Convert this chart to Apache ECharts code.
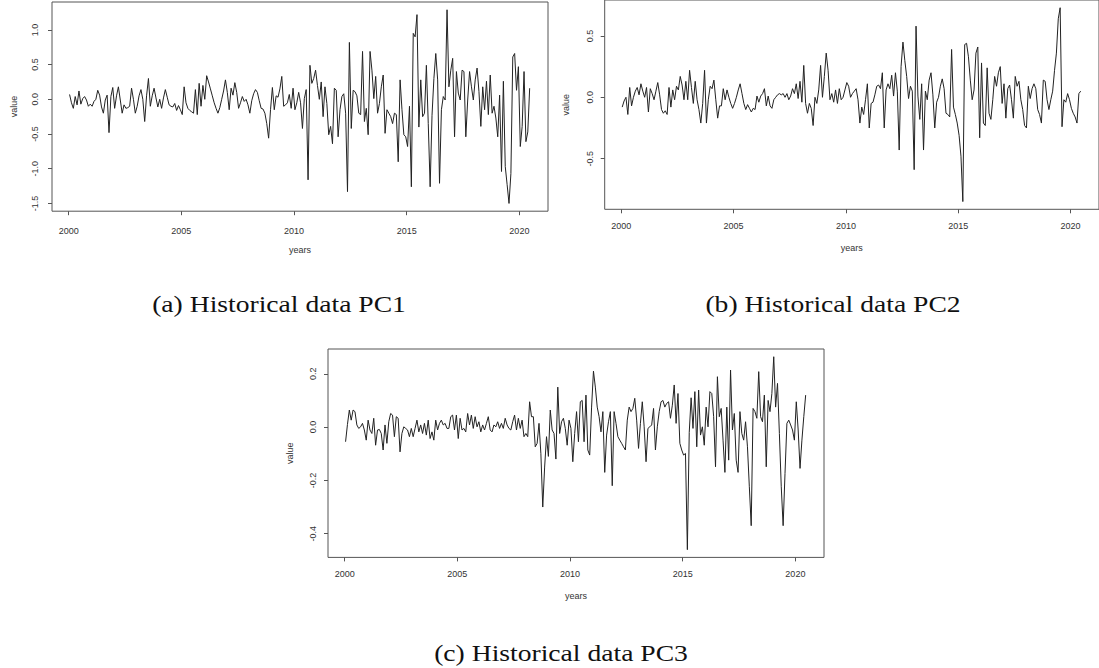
<!DOCTYPE html>
<html>
<head>
<meta charset="utf-8">
<script src="https://cdn.jsdelivr.net/npm/echarts@6/dist/echarts.min.js"></script>
<style>
html,body{margin:0;padding:0;background:#fff;}
#chart{width:1099px;height:668px;}
</style>
</head>
<body>
<div id="chart"></div>
<script>
// ---- data (monthly) ----
const START_YEAR = 2000.04;
const X_TICKS = [2000, 2005, 2010, 2015, 2020];
const PC1_TICKS = [-1.5, -1, -0.5, 0, 0.5, 1];
const PC2_TICKS = [-0.5, 0, 0.5];
const PC3_TICKS = [-0.4, -0.2, 0, 0.2];
const CAPTIONS = ['(a) Historical data PC1', '(b) Historical data PC2', '(c) Historical data PC3'];

const PC1 = [
 0.07,-0.05,-0.13,0.04,-0.08,0.12,-0.07,0.01,0.04,-0.01,
 -0.10,-0.07,-0.10,-0.03,0.00,0.13,0.06,-0.11,-0.20,-0.01,
 0.06,-0.48,0.04,0.17,-0.13,0.05,0.18,-0.01,-0.20,-0.08,
 -0.13,-0.12,-0.10,0.16,0.00,-0.20,-0.10,0.05,0.14,0.00,
 -0.32,0.05,0.30,-0.10,0.05,0.16,0.02,-0.11,0.00,-0.13,
 0.02,0.14,0.03,-0.08,-0.10,-0.11,-0.06,-0.16,-0.09,-0.15,
 -0.22,0.18,-0.05,-0.13,-0.16,-0.18,-0.20,0.14,-0.22,0.23,
 -0.10,0.20,0.00,0.34,0.25,0.15,0.05,-0.05,-0.13,-0.20,
 -0.12,0.00,0.12,0.28,0.10,-0.15,0.16,0.06,0.24,0.10,
 -0.13,-0.05,0.04,-0.03,0.00,-0.08,-0.20,-0.02,0.08,0.14,
 0.10,-0.02,-0.13,-0.14,-0.20,-0.35,-0.56,-0.15,0.17,-0.15,
 0.05,0.03,0.15,0.33,-0.10,-0.08,-0.05,0.07,-0.13,0.16,
 -0.15,-0.05,0.10,-0.05,-0.42,0.01,0.14,-1.16,0.49,0.23,
 0.30,0.42,0.20,0.00,0.25,-0.25,0.18,-0.06,-0.51,-0.39,
 -0.64,0.16,0.13,-0.54,-0.15,0.04,0.08,-0.20,-1.33,0.82,
 -0.42,0.13,0.11,0.05,-0.20,-0.22,0.69,-0.32,-0.13,-0.51,
 0.69,0.42,0.01,0.33,-0.20,-0.06,0.18,0.35,-0.49,-0.15,
 -0.20,-0.25,-0.35,-0.20,-0.22,-0.90,0.28,-0.15,-0.51,-0.54,
 -0.68,-0.10,-1.26,0.95,0.90,1.22,-0.40,0.28,-0.25,-0.20,
 0.49,-0.35,-1.26,-0.23,0.30,0.66,0.28,-1.21,-0.15,0.04,
 -0.01,1.29,0.18,0.42,0.59,-0.54,0.40,0.09,-0.01,0.42,
 0.40,-0.54,-0.01,0.40,0.18,-0.01,0.28,0.45,0.11,-0.39,
 0.18,-0.15,0.26,-0.22,0.35,-0.20,-0.10,-0.27,-0.54,0.06,
 -1.04,0.26,-0.97,-1.23,-1.50,-1.07,0.61,0.66,0.13,0.47,
 -0.68,-0.39,0.40,-0.61,-0.47,0.16
];

const PC2 = [
 -0.08,-0.03,0.00,-0.14,0.08,-0.07,0.00,0.05,0.08,0.02,
 0.11,0.05,0.00,0.08,-0.12,0.07,0.03,-0.02,0.05,0.12,
 0.02,-0.10,-0.13,-0.11,-0.14,0.08,-0.08,0.06,-0.02,0.09,
 0.06,0.17,0.10,-0.02,0.13,-0.02,0.22,0.08,-0.05,0.13,
 -0.02,-0.10,-0.21,-0.05,0.22,-0.21,-0.02,0.09,0.07,0.14,
 -0.02,-0.17,-0.07,-0.07,0.07,-0.02,0.06,0.00,-0.05,-0.09,
 -0.05,0.00,0.06,0.11,0.03,-0.05,-0.10,-0.06,-0.09,-0.12,
 -0.09,-0.10,0.01,-0.04,0.01,0.03,0.07,-0.07,0.01,-0.07,
 -0.09,-0.02,0.00,0.02,0.03,0.02,0.03,0.00,0.03,-0.02,
 0.01,0.07,0.03,0.11,-0.01,0.13,-0.04,0.26,-0.05,-0.13,
 -0.05,-0.09,-0.23,0.00,-0.05,0.06,0.26,0.00,0.17,0.36,
 0.22,-0.02,0.03,-0.04,0.06,-0.05,0.07,-0.02,0.00,0.06,
 0.12,0.09,0.00,0.03,0.05,0.07,-0.02,-0.21,-0.08,-0.14,
 -0.02,0.11,-0.25,-0.05,-0.04,0.02,0.09,0.10,0.07,0.20,
 -0.25,0.06,0.11,0.07,0.18,0.01,0.20,0.05,-0.43,0.25,
 0.45,0.30,0.17,-0.01,0.09,0.05,-0.59,0.58,0.01,-0.18,
 0.11,-0.43,0.05,-0.02,0.14,0.20,0.02,-0.25,-0.04,0.00,
 0.09,0.15,0.07,-0.13,-0.14,-0.16,0.39,-0.08,-0.14,-0.21,
 -0.31,-0.48,-0.85,0.43,0.44,0.33,0.14,-0.02,0.06,0.36,
 0.41,-0.33,0.28,-0.21,-0.23,0.24,-0.13,-0.18,-0.02,0.17,
 0.09,0.20,0.25,-0.05,0.11,-0.17,0.07,0.10,-0.02,-0.17,
 0.17,0.09,0.13,-0.02,-0.10,-0.23,-0.25,0.09,-0.01,0.07,
 0.11,0.07,-0.10,-0.14,-0.21,0.14,0.13,-0.02,-0.10,-0.02,
 0.05,0.22,0.36,0.64,0.73,-0.24,-0.02,-0.04,0.03,-0.02,
 -0.09,-0.13,-0.16,-0.21,0.03,0.05
];

const PC3 = [
 -0.055,0.01,0.064,0.026,0.064,0.058,0.008,-0.005,0.001,0.014,
 -0.011,-0.049,0.026,-0.011,-0.024,0.033,-0.068,-0.011,-0.009,-0.024,
 -0.086,0.008,-0.061,0.02,0.051,0.045,-0.036,0.039,0.033,-0.093,
 -0.024,0.001,-0.005,-0.011,-0.036,-0.005,-0.036,-0.005,0.026,-0.018,
 0.008,-0.024,0.014,-0.03,0.026,-0.043,-0.018,-0.049,0.026,-0.011,
 0.014,0.026,0.008,0.014,-0.005,-0.005,0.039,0.045,-0.011,0.045,
 -0.043,0.033,-0.011,-0.005,-0.018,0.051,0.008,0.045,-0.005,0.039,
 0.001,0.02,-0.018,0.008,-0.011,0.014,0.039,-0.011,-0.018,0.008,
 0.001,0.02,-0.005,0.014,-0.005,0.033,0.008,-0.005,-0.011,0.02,
 0.045,-0.011,0.033,-0.005,0.026,-0.036,-0.024,-0.036,0.095,0.039,
 0.039,-0.074,-0.061,0.014,-0.10,-0.30,-0.15,-0.036,-0.11,0.064,
 -0.011,-0.024,-0.12,0.15,-0.024,0.02,0.033,-0.005,-0.068,0.026,
 -0.005,-0.13,-0.024,0.058,-0.055,0.095,0.10,-0.055,0.12,-0.086,
 -0.105,0.075,0.21,0.15,0.075,0.039,-0.018,0.058,-0.17,-0.03,
 0.02,0.058,-0.22,0.058,0.014,-0.036,-0.049,-0.061,-0.074,-0.086,
 0.026,0.075,0.058,0.07,0.108,0.026,-0.08,0.014,0.095,0.001,
 -0.13,-0.005,0.001,0.008,0.07,-0.086,0.001,0.058,0.095,0.10,
 0.075,0.089,0.095,0.033,0.082,0.158,0.014,0.126,-0.061,-0.086,
 -0.105,-0.099,-0.46,-0.02,0.11,-0.005,0.133,-0.074,0.139,-0.03,
 0.001,-0.068,0.075,0.001,0.133,0.126,0.039,-0.149,0.189,0.039,
 0.07,-0.049,-0.17,0.075,-0.124,0.214,-0.011,0.051,-0.124,-0.17,
 0.058,-0.024,-0.049,0.02,-0.074,-0.224,-0.37,0.07,0.058,0.033,
 0.208,0.039,0.02,0.12,-0.149,0.10,0.058,0.126,0.264,0.075,
 0.164,-0.024,-0.224,-0.37,-0.174,0.014,0.026,0.008,-0.011,-0.049,
 0.095,-0.011,-0.155,-0.049,0.039,0.12
];

// ---- chart ----
const toPairs = vals => vals.map((v, i) => [START_YEAR + i / 12, v]);
const FONT = 'Liberation Sans';
const TXT = '#333';
const BOX = '#555';

const panels = [
  {grid:{left:52, top:2, width:496, height:209.2}, ymin:-1.612, ymax:1.402, ticks:PC1_TICKS, data:PC1, ylm:13, xlm:15},
  {grid:{left:604.7, top:0, width:497.5, height:209.3}, ymin:-0.913, ymax:0.793, ticks:PC2_TICKS, data:PC2, ylm:10, xlm:12},
  {grid:{left:328, top:349, width:496, height:208.4}, ymin:-0.489, ymax:0.293, ticks:PC3_TICKS, data:PC3, ylm:11, xlm:12}
];

const captionStyle = txt => ({text:txt, font:'24px "Liberation Serif"', fill:'#111',
  textAlign:'center', textVerticalAlign:'middle', align:'center', verticalAlign:'middle'});

const option = {
  animation: false,
  backgroundColor: '#fff',
  tooltip: {show:false},
  grid: panels.map(p => Object.assign({show:true, borderColor:BOX, borderWidth:1, backgroundColor:'transparent'}, p.grid)),
  xAxis: panels.map((p, k) => ({
    type:'value', gridIndex:k, min:1999.26, max:2021.27, position:'bottom',
    name:'years', nameLocation:'middle', nameGap:34,
    nameTextStyle:{fontFamily:FONT, fontSize:9, color:TXT},
    axisLine:{show:false, onZero:false}, splitLine:{show:false}, axisPointer:{show:false},
    axisTick:{show:true, length:4, customValues:X_TICKS, lineStyle:{color:BOX}},
    axisLabel:{show:true, customValues:X_TICKS, margin:p.xlm, fontFamily:FONT, fontSize:9, color:TXT,
      formatter: v => String(Math.round(v))}
  })),
  yAxis: panels.map((p, k) => ({
    type:'value', gridIndex:k, min:p.ymin, max:p.ymax, position:'left',
    name:'value', nameLocation:'middle', nameGap:34, nameRotate:90,
    nameTextStyle:{fontFamily:FONT, fontSize:9, color:TXT},
    axisLine:{show:false, onZero:false}, splitLine:{show:false}, axisPointer:{show:false},
    axisTick:{show:true, length:4, customValues:p.ticks, lineStyle:{color:BOX}},
    axisLabel:{show:true, customValues:p.ticks, rotate:90, margin:p.ylm, fontFamily:FONT, fontSize:9, color:TXT,
      formatter: v => v.toFixed(1)}
  })),
  series: panels.map((p, k) => ({
    type:'line', xAxisIndex:k, yAxisIndex:k, data:toPairs(p.data),
    showSymbol:false, symbol:'none', clip:true, silent:true,
    lineStyle:{color:'#222', width:1}
  })),
  graphic: [
    {type:'text', x:279, y:304, scaleX:1.15, style:captionStyle(CAPTIONS[0])},
    {type:'text', x:833, y:304, scaleX:1.15, style:captionStyle(CAPTIONS[1])},
    {type:'text', x:561, y:653, scaleX:1.15, style:captionStyle(CAPTIONS[2])}
  ]
};

const chart = echarts.init(document.getElementById('chart'), null, {renderer:'svg', width:1099, height:668});
chart.setOption(option);
</script>
</body>
</html>
